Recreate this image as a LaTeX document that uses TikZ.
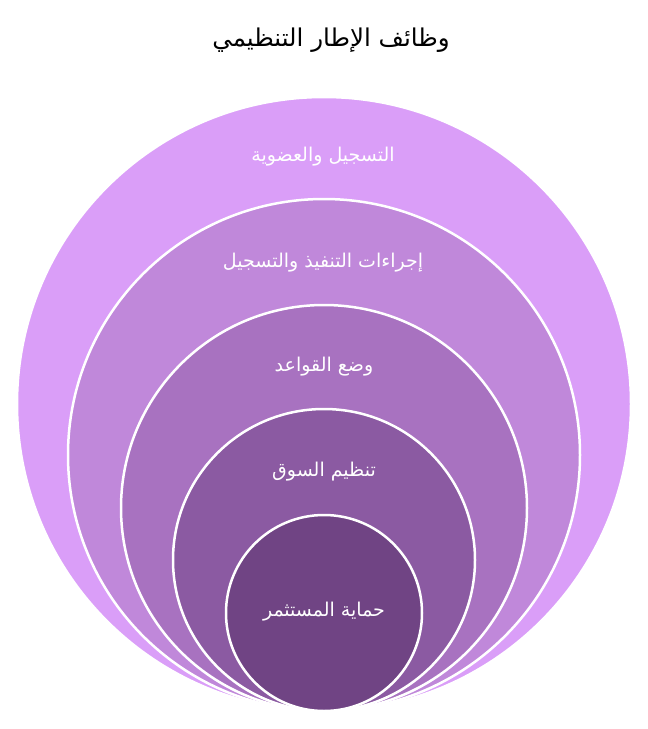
\documentclass[tikz,border=0pt]{standalone}
\usepackage{fontspec}
\newfontfamily\arabicfont[Script=Arabic]{DejaVu Sans}
\TeXXeTstate=1
\usetikzlibrary{positioning}
\definecolor{ringA}{RGB}{218,158,248}
\definecolor{ringB}{RGB}{192,136,218}
\definecolor{ringC}{RGB}{168,114,192}
\definecolor{ringD}{RGB}{139,90,162}
\definecolor{ringE}{RGB}{112,68,132}
\tikzstyle{ring} = [circle, inner sep=0pt, outer sep=0pt, draw=white, line width=2.5pt]
\tikzstyle{label} = [text=white, font=\arabicfont\fontsize{19}{22}\selectfont]

\begin{document}
\begin{tikzpicture}[x=1pt, y=1pt]
\useasboundingbox (0,0) rectangle (648,-729);

\node (ring1) [ring, fill=ringA, minimum size=614pt] at (324,-404) {};
\node (ring2) [ring, fill=ringB, minimum size=512pt] at (324,-455) {};
\node (ring3) [ring, fill=ringC, minimum size=406pt] at (324,-508) {};
\node (ring4) [ring, fill=ringD, minimum size=302pt] at (324,-560) {};
\node (ring5) [ring, fill=ringE, minimum size=196pt] at (324,-613) {};

\node (title) [font=\arabicfont\fontsize{24.5}{28}\selectfont] at (331,-40) {\beginR وظائف الإطار التنظيمي\endR};

\node (lab1) [label] at (323,-157) {\beginR التسجيل والعضوية\endR};
\node (lab2) [label] at (323,-263) {\beginR إجراءات التنفيذ والتسجيل\endR};
\node (lab3) [label] at (324,-367) {\beginR وضع القواعد\endR};
\node (lab4) [label] at (324,-472) {\beginR تنظيم السوق\endR};
\node (lab5) [label] at (324,-612) {\beginR حماية المستثمر\endR};
\end{tikzpicture}
\end{document}
